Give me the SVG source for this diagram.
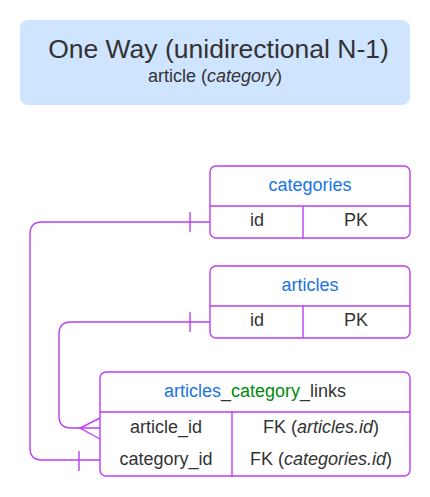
<svg xmlns="http://www.w3.org/2000/svg" width="430" height="497" viewBox="0 0 430 497">
<style>
.tbl{fill:#ffffff;stroke:#bd3df5;stroke-width:1.4}
.ln{fill:none;stroke:#bd3df5;stroke-width:1.4}
.t{font-family:"Liberation Sans",Arial,sans-serif;font-size:18px;fill:#333333;text-anchor:middle}
.b{fill:#1a73e8}
.g{fill:#008a0e}
</style>
<rect width="430" height="497" fill="#ffffff"/>
<g id="title">
<rect x="20" y="20" width="390" height="85" rx="8" fill="#cfe4ff"/>
<text class="t" x="218.5" y="58" style="font-size:26.5px">One Way (unidirectional N-1)</text>
<text class="t" x="215" y="82">article (<tspan font-style="italic">category</tspan>)</text>
</g>
<g id="connectors">
<path class="ln" d="M210,222 H42 Q30,222 30,234 V448 Q30,460 42,460 H100"/>
<path class="ln" d="M190,212 V232 M79,451 V471"/>
<path class="ln" d="M210,322 H71 Q59,322 59,334 V416 Q59,428 71,428 H100"/>
<path class="ln" d="M190,312 V332 M100,418 L80,428 L100,439"/>
</g>
<g id="categories">
<rect class="tbl" x="210" y="166" width="200" height="72" rx="6"/>
<path class="ln" d="M210,206 H410 M303,206 V238"/>
<text class="t b" x="310" y="191">categories</text>
<text class="t" x="257" y="226">id</text>
<text class="t" x="356" y="226">PK</text>
</g>
<g id="articles">
<rect class="tbl" x="210" y="266" width="200" height="72" rx="6"/>
<path class="ln" d="M210,306 H410 M303,306 V338"/>
<text class="t b" x="310" y="291">articles</text>
<text class="t" x="257" y="326">id</text>
<text class="t" x="356" y="326">PK</text>
</g>
<g id="articles_category_links">
<rect class="tbl" x="100" y="372" width="310" height="104" rx="6"/>
<path class="ln" d="M100,412 H410 M232,412 V476"/>
<text class="t" x="255" y="397"><tspan class="b">articles</tspan>_<tspan class="g">category</tspan>_links</text>
<text class="t" x="166" y="433">article_id</text>
<text class="t" x="321" y="433">FK (<tspan font-style="italic">articles.id</tspan>)</text>
<text class="t" x="166" y="465">category_id</text>
<text class="t" x="321" y="465">FK (<tspan font-style="italic">categories.id</tspan>)</text>
</g>
</svg>
